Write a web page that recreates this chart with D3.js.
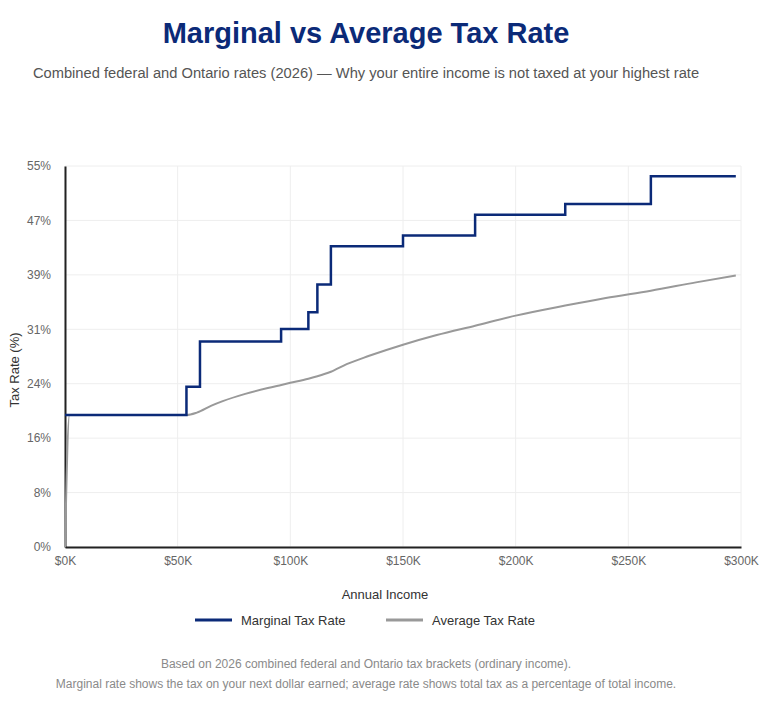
<!DOCTYPE html>
<html>
<head>
<meta charset="utf-8">
<script src="https://cdn.jsdelivr.net/npm/d3@7"></script>
<style>
  body { margin: 0; background: #fff; font-family: "Liberation Sans", Arial, sans-serif; }
  .tick text { fill: #666; font-size: 12px; }
</style>
</head>
<body>
<div id="chart"></div>
<script>
// DATA (income in $K, rates in %)
const marginalIncome = [0, 53.9, 59.9, 95.9, 108, 112, 118, 150, 182, 222, 260, 297.7];
const marginalRate   = [19.05, 23.15, 29.65, 31.48, 33.89, 37.91, 43.41, 44.97, 47.97, 49.53, 53.53, 53.53];

const averageIncome = [0, 2, 54, 58.5, 65, 70, 80, 90, 96, 100, 108, 112, 118, 125, 135, 150, 165, 182, 200, 222, 240, 260, 280, 297.7];
const averageRate   = [0, 19.05, 19.05, 19.4, 20.4, 21.05, 22.1, 22.95, 23.4, 23.7, 24.3, 24.65, 25.3, 26.4, 27.6, 29.2, 30.6, 31.95, 33.4, 34.85, 35.95, 37.0, 38.2, 39.2];

const xTicks = [0, 50, 100, 150, 200, 250, 300];
const yTicks = [0, 55 / 7, 110 / 7, 165 / 7, 220 / 7, 275 / 7, 330 / 7, 55];

const seriesNames = ["Marginal Tax Rate", "Average Tax Rate"];
const seriesColors = ["#0b2a78", "#999999"];

// SETUP
const W = 768, H = 705;
const margin = { top: 166, right: 27, bottom: 158, left: 65 },
      width = W - margin.left - margin.right,
      height = H - margin.top - margin.bottom;

const svg = d3.select("#chart").append("svg")
    .attr("width", W)
    .attr("height", H);

const g = svg.append("g")
    .attr("transform", `translate(${margin.left},${margin.top})`);

// SCALES
const x = d3.scaleLinear().domain([0, 300]).range([0, width]);
const y = d3.scaleLinear().domain([0, 55]).range([height, 0]);

// GRID
g.append("g").selectAll("line").data(xTicks).join("line")
    .attr("x1", d => x(d)).attr("x2", d => x(d))
    .attr("y1", 0).attr("y2", height)
    .attr("stroke", "#eeeeee");
g.append("g").selectAll("line").data(yTicks).join("line")
    .attr("x1", 0).attr("x2", width)
    .attr("y1", d => y(d)).attr("y2", d => y(d))
    .attr("stroke", "#eeeeee");

// AXES
const xAxis = g.append("g")
    .attr("transform", `translate(0,${height})`)
    .call(d3.axisBottom(x).tickValues(xTicks).tickSize(0).tickPadding(9).tickFormat(d => `$${d}K`));
xAxis.select(".domain").attr("stroke", "#222").attr("stroke-width", 2);

const yAxis = g.append("g")
    .call(d3.axisLeft(y).tickValues(yTicks).tickSize(0).tickPadding(14).tickFormat(d => `${Math.round(d)}%`));
yAxis.select(".domain").attr("stroke", "#222").attr("stroke-width", 2);
g.selectAll(".tick text").attr("font-family", "Liberation Sans, Arial, sans-serif");

// LINES
const marginalData = marginalIncome.map((v, i) => ({ inc: v, rate: marginalRate[i] }));
const averageData = averageIncome.map((v, i) => ({ inc: v, rate: averageRate[i] }));

g.append("path")
    .datum(averageData)
    .attr("fill", "none")
    .attr("stroke", seriesColors[1])
    .attr("stroke-width", 2)
    .attr("d", d3.line().curve(d3.curveMonotoneX).x(d => x(d.inc)).y(d => y(d.rate)));

g.append("path")
    .datum(marginalData)
    .attr("fill", "none")
    .attr("stroke", seriesColors[0])
    .attr("stroke-width", 2.5)
    .attr("d", d3.line().curve(d3.curveStepAfter).x(d => x(d.inc)).y(d => y(d.rate)));

// TEXT
svg.append("text")
    .attr("x", 366).attr("y", 43)
    .attr("text-anchor", "middle")
    .attr("font-size", 29).attr("font-weight", "bold")
    .attr("fill", "#0b2a78")
    .text("Marginal vs Average Tax Rate");

svg.append("text")
    .attr("x", 366).attr("y", 78)
    .attr("text-anchor", "middle")
    .attr("font-size", 14.7)
    .attr("fill", "#555")
    .text("Combined federal and Ontario rates (2026) — Why your entire income is not taxed at your highest rate");

svg.append("text")
    .attr("x", 385).attr("y", 599)
    .attr("text-anchor", "middle")
    .attr("font-size", 13)
    .attr("fill", "#333")
    .text("Annual Income");

svg.append("text")
    .attr("transform", "rotate(-90)")
    .attr("x", -370).attr("y", 19)
    .attr("text-anchor", "middle")
    .attr("font-size", 13)
    .attr("fill", "#333")
    .text("Tax Rate (%)");

// LEGEND
const legendX = [195, 386];
const legend = svg.append("g").selectAll("g").data(seriesNames).join("g")
    .attr("transform", (d, i) => `translate(${legendX[i]},620)`);
legend.append("line")
    .attr("x1", 0).attr("x2", 37)
    .attr("stroke", (d, i) => seriesColors[i])
    .attr("stroke-width", 3);
legend.append("text")
    .attr("x", 46).attr("y", 4.5)
    .attr("font-size", 13)
    .attr("fill", "#333")
    .text(d => d);

// FOOTER
const footer = [
  "Based on 2026 combined federal and Ontario tax brackets (ordinary income).",
  "Marginal rate shows the tax on your next dollar earned; average rate shows total tax as a percentage of total income."
];
svg.append("g").selectAll("text").data(footer).join("text")
    .attr("x", 366).attr("y", (d, i) => 668 + i * 20)
    .attr("text-anchor", "middle")
    .attr("font-size", 12)
    .attr("fill", "#8a8a8a")
    .text(d => d);
</script>
</body>
</html>
